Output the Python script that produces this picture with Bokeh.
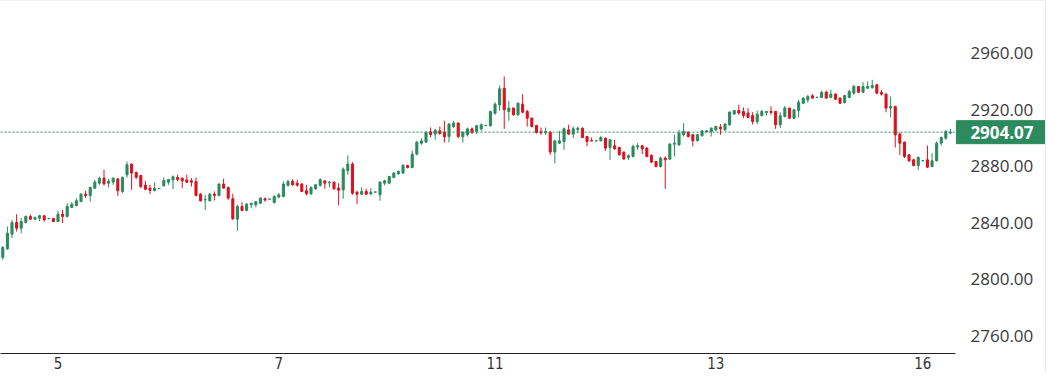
from bokeh.plotting import figure
from bokeh.models import ColumnDataSource, Span, Label, FixedTicker, NumeralTickFormatter, Range1d
from bokeh.embed import file_html
from bokeh.resources import INLINE

# ---- data (hourly candles) ----
opens = [2815.4, 2821.5, 2831.9, 2840.1, 2836.1, 2840.1, 2844.4, 2842.5, 2843.2, 2844.9,
         2842.8, 2843.0, 2840.8, 2846.0, 2844.4, 2850.8, 2852.2, 2855.0, 2860.2, 2859.2,
         2864.4, 2868.0, 2871.5, 2868.0, 2868.7, 2871.0, 2862.1, 2873.9, 2881.4, 2875.5,
         2873.4, 2866.6, 2864.4, 2862.8, 2864.1, 2866.1, 2868.7, 2870.3, 2872.0, 2871.5,
         2870.3, 2869.6, 2869.2, 2860.2, 2856.1, 2855.5, 2860.2, 2859.3, 2867.3, 2864.9,
         2856.9, 2842.5, 2851.5, 2848.7, 2852.7, 2852.7, 2853.8, 2856.9, 2856.6, 2854.3,
         2858.1, 2858.6, 2866.4, 2869.4, 2868.0, 2867.3, 2862.6, 2860.5, 2864.0, 2866.4,
         2869.6, 2868.3, 2868.7, 2864.5, 2863.3, 2876.7, 2881.5, 2861.6, 2860.2, 2862.1,
         2860.5, 2861.6, 2859.7, 2868.0, 2868.0, 2872.0, 2874.6, 2875.1, 2880.5, 2879.1,
         2888.6, 2896.3, 2897.0, 2904.3, 2902.7, 2905.0, 2904.1, 2901.0, 2908.1, 2910.5,
         2900.8, 2902.2, 2906.4, 2904.6, 2906.4, 2908.7, 2908.6, 2917.5, 2923.4, 2935.2,
         2918.7, 2921.1, 2916.4, 2923.9, 2918.7, 2914.0, 2908.8, 2904.6, 2903.6, 2904.1,
         2890.0, 2896.3, 2897.5, 2905.7, 2902.7, 2906.0, 2906.9, 2901.0, 2898.2, 2897.8,
         2898.0, 2899.8, 2893.3, 2894.4, 2893.3, 2889.9, 2886.2, 2886.9, 2893.5, 2894.4,
         2892.8, 2887.6, 2883.3, 2879.8, 2885.7, 2885.0, 2895.6, 2895.1, 2902.2, 2904.1,
         2902.2, 2898.0, 2901.5, 2904.3, 2904.6, 2905.8, 2907.6, 2905.8, 2909.3, 2916.9,
         2919.4, 2918.7, 2917.6, 2915.9, 2911.6, 2915.9, 2918.0, 2918.7, 2918.7, 2909.3,
         2915.2, 2921.1, 2914.0, 2919.4, 2924.6, 2927.0, 2929.8, 2928.6, 2928.6, 2932.4,
         2928.6, 2931.0, 2928.2, 2925.1, 2928.6, 2931.7, 2936.4, 2932.4, 2935.2, 2935.7,
         2937.6, 2932.2, 2931.0, 2921.1, 2922.3, 2902.7, 2897.0, 2888.0, 2884.5, 2880.5,
         2883.7, 2884.5, 2879.8, 2883.8, 2896.3, 2899.8, 2903.6]
highs = [2823.6, 2837.3, 2842.0, 2846.0, 2843.2, 2845.1, 2845.8, 2844.4, 2845.6, 2845.1,
         2843.2, 2843.0, 2848.4, 2849.1, 2853.8, 2854.5, 2857.4, 2860.9, 2862.5, 2865.6,
         2870.3, 2872.7, 2877.4, 2871.0, 2872.0, 2871.5, 2872.7, 2883.3, 2882.1, 2876.2,
         2873.9, 2869.6, 2866.8, 2868.5, 2864.4, 2872.0, 2871.0, 2873.4, 2873.9, 2872.0,
         2873.9, 2871.5, 2872.0, 2860.9, 2859.7, 2860.9, 2862.1, 2868.0, 2871.1, 2865.6,
         2860.5, 2852.7, 2854.5, 2853.8, 2854.3, 2855.3, 2857.9, 2857.9, 2857.0, 2859.3,
         2860.9, 2869.2, 2870.4, 2870.8, 2870.4, 2868.0, 2866.8, 2865.6, 2867.3, 2871.5,
         2869.9, 2869.6, 2869.2, 2868.0, 2879.1, 2887.6, 2882.9, 2862.6, 2864.9, 2864.0,
         2864.5, 2862.0, 2869.2, 2870.4, 2873.2, 2876.0, 2877.0, 2881.5, 2881.0, 2891.0,
         2897.9, 2899.8, 2904.6, 2907.4, 2906.4, 2908.1, 2912.1, 2910.5, 2912.1, 2911.2,
         2904.6, 2907.4, 2907.4, 2909.3, 2910.2, 2909.1, 2919.2, 2925.3, 2937.1, 2943.5,
         2926.3, 2921.5, 2925.3, 2931.0, 2919.9, 2914.5, 2909.3, 2907.4, 2907.4, 2904.6,
         2898.7, 2905.0, 2907.4, 2909.3, 2908.1, 2908.1, 2907.4, 2901.5, 2900.3, 2898.2,
         2901.5, 2900.3, 2899.1, 2898.7, 2893.7, 2890.4, 2888.5, 2895.2, 2896.3, 2895.1,
         2893.3, 2888.5, 2883.8, 2886.9, 2886.9, 2896.3, 2902.2, 2905.8, 2910.5, 2904.6,
         2902.7, 2902.7, 2905.5, 2905.5, 2907.4, 2908.6, 2909.8, 2910.2, 2918.7, 2919.9,
         2923.5, 2921.6, 2921.1, 2918.2, 2919.2, 2919.9, 2919.2, 2922.3, 2919.2, 2918.2,
         2922.7, 2921.5, 2920.6, 2927.0, 2928.6, 2930.5, 2931.0, 2929.0, 2933.4, 2933.4,
         2934.1, 2931.7, 2928.6, 2930.5, 2934.1, 2937.6, 2936.9, 2939.5, 2939.9, 2941.1,
         2938.1, 2934.1, 2931.7, 2929.3, 2922.7, 2903.9, 2897.5, 2888.5, 2885.2, 2886.9,
         2884.1, 2894.6, 2889.2, 2897.5, 2901.0, 2905.7, 2906.4]
lows = [2813.7, 2820.8, 2829.1, 2833.8, 2832.6, 2839.4, 2842.0, 2841.8, 2841.1, 2840.8,
        2842.5, 2840.4, 2840.4, 2839.7, 2843.7, 2850.3, 2851.5, 2854.5, 2857.4, 2855.0,
        2864.0, 2866.8, 2866.3, 2864.9, 2866.8, 2859.0, 2860.9, 2872.0, 2863.3, 2871.0,
        2864.4, 2863.0, 2860.2, 2862.1, 2863.9, 2865.6, 2866.8, 2863.7, 2869.2, 2864.4,
        2868.0, 2865.6, 2858.6, 2855.0, 2849.1, 2855.0, 2855.7, 2858.6, 2864.0, 2856.2,
        2842.0, 2834.3, 2848.0, 2848.0, 2850.3, 2850.8, 2853.1, 2855.0, 2856.4, 2853.6,
        2857.4, 2857.9, 2865.6, 2866.3, 2865.4, 2861.6, 2859.3, 2859.7, 2863.3, 2865.6,
        2864.0, 2865.0, 2863.3, 2852.2, 2856.9, 2873.9, 2859.7, 2853.1, 2859.7, 2859.3,
        2859.3, 2861.2, 2855.5, 2866.4, 2867.3, 2871.5, 2874.0, 2874.6, 2878.4, 2878.4,
        2887.6, 2895.1, 2896.5, 2900.3, 2898.7, 2902.2, 2896.8, 2896.8, 2906.9, 2899.8,
        2896.8, 2901.0, 2902.7, 2902.7, 2905.0, 2908.6, 2908.1, 2916.4, 2919.2, 2906.4,
        2912.1, 2915.7, 2915.7, 2917.5, 2908.1, 2907.4, 2903.1, 2902.2, 2902.2, 2888.0,
        2882.1, 2895.6, 2891.6, 2902.2, 2899.9, 2903.4, 2899.9, 2894.0, 2897.5, 2897.5,
        2897.5, 2890.9, 2884.5, 2891.6, 2887.4, 2884.5, 2884.5, 2886.2, 2891.6, 2888.5,
        2886.2, 2882.2, 2879.1, 2879.1, 2864.0, 2884.5, 2886.9, 2894.4, 2901.0, 2900.3,
        2894.0, 2897.5, 2901.0, 2903.9, 2901.0, 2904.6, 2902.2, 2905.0, 2908.6, 2916.4,
        2916.4, 2914.0, 2914.0, 2909.5, 2909.7, 2915.2, 2915.9, 2916.4, 2906.4, 2906.9,
        2914.5, 2913.3, 2913.5, 2914.5, 2923.9, 2925.1, 2927.7, 2928.4, 2928.2, 2927.7,
        2928.2, 2926.7, 2923.9, 2924.4, 2928.2, 2930.5, 2931.7, 2931.7, 2934.8, 2934.8,
        2931.0, 2930.0, 2918.2, 2914.5, 2893.2, 2888.0, 2885.7, 2882.8, 2879.8, 2877.4,
        2883.5, 2878.6, 2879.1, 2883.3, 2894.6, 2898.7, 2902.7]
closes = [2822.4, 2832.6, 2840.1, 2836.1, 2840.8, 2844.4, 2842.5, 2843.7, 2844.9, 2842.0,
          2843.0, 2840.8, 2846.0, 2844.4, 2851.5, 2853.1, 2855.5, 2860.2, 2859.2, 2864.9,
          2868.7, 2871.5, 2867.5, 2869.4, 2871.5, 2862.6, 2872.0, 2881.0, 2875.1, 2872.2,
          2865.6, 2863.7, 2862.8, 2864.4, 2864.2, 2869.9, 2870.6, 2872.5, 2870.6, 2869.6,
          2868.7, 2868.7, 2859.3, 2855.5, 2856.3, 2860.2, 2859.3, 2867.3, 2864.5, 2857.4,
          2842.7, 2851.5, 2848.7, 2853.1, 2853.6, 2854.8, 2857.4, 2856.0, 2856.7, 2858.6,
          2859.7, 2867.3, 2869.2, 2866.8, 2866.6, 2862.1, 2860.5, 2864.9, 2866.8, 2870.4,
          2868.0, 2868.7, 2864.0, 2863.0, 2877.9, 2881.5, 2860.9, 2860.2, 2862.1, 2860.2,
          2861.6, 2861.8, 2868.7, 2869.6, 2872.7, 2875.1, 2876.3, 2880.5, 2879.1, 2888.5,
          2897.0, 2897.9, 2904.1, 2902.4, 2905.5, 2903.1, 2900.8, 2909.8, 2910.5, 2901.0,
          2904.1, 2906.4, 2904.1, 2908.6, 2909.3, 2908.9, 2918.7, 2923.9, 2934.8, 2919.9,
          2921.1, 2916.4, 2924.6, 2918.2, 2914.0, 2908.1, 2903.8, 2903.6, 2904.6, 2890.0,
          2897.9, 2898.0, 2906.5, 2902.7, 2906.5, 2906.9, 2900.3, 2897.5, 2897.8, 2898.0,
          2900.3, 2892.8, 2898.7, 2892.3, 2888.1, 2885.2, 2887.4, 2894.0, 2894.4, 2892.3,
          2886.9, 2882.9, 2879.8, 2885.7, 2884.5, 2895.6, 2896.3, 2903.4, 2904.6, 2901.0,
          2898.0, 2902.2, 2905.0, 2905.0, 2906.9, 2908.1, 2906.5, 2909.8, 2918.3, 2919.4,
          2917.6, 2915.9, 2914.5, 2911.7, 2916.8, 2918.7, 2918.7, 2918.0, 2909.3, 2915.7,
          2921.1, 2914.0, 2919.9, 2925.3, 2928.2, 2929.3, 2928.2, 2928.8, 2932.2, 2928.2,
          2931.0, 2927.4, 2924.6, 2930.0, 2932.9, 2936.4, 2932.4, 2936.4, 2936.4, 2937.1,
          2931.7, 2931.0, 2921.1, 2922.3, 2902.2, 2896.3, 2886.9, 2883.8, 2880.5, 2886.2,
          2883.9, 2879.3, 2883.8, 2896.3, 2900.3, 2904.6, 2904.07]

tick_idx = [12, 60, 107, 155, 200]
tick_labels = ["5", "7", "11", "13", "16"]
price_ticks = [2760, 2800, 2840, 2880, 2920, 2960]

GREEN = "#2b8a5e"
RED = "#d9121f"

n = len(closes)
xs = list(range(n))
colors = [GREEN if c >= o else RED for o, c in zip(opens, closes)]
src = ColumnDataSource(dict(
    x=xs, o=opens, h=highs, l=lows, c=closes,
    top=[max(o, c) for o, c in zip(opens, closes)],
    bottom=[min(o, c) for o, c in zip(opens, closes)],
    color=colors,
))

p = figure(width=1046, height=372,
           x_range=Range1d(-0.5, 207.1), y_range=Range1d(2747.4, 2972.5),
           output_backend="svg", toolbar_location=None,
           y_axis_location="right",
           min_border_left=0, min_border_top=34, min_border_right=91, min_border_bottom=20)
p.grid.visible = False
p.outline_line_color = None
p.background_fill_color = "white"
p.border_fill_color = "white"

# x axis
p.xaxis.ticker = FixedTicker(ticks=tick_idx)
p.xaxis.major_label_overrides = {t: s for t, s in zip(tick_idx, tick_labels)}
p.xaxis.major_tick_line_color = None
p.xaxis.minor_tick_line_color = None
p.xaxis.major_tick_out = 0
p.xaxis.major_tick_in = 0
p.xaxis.axis_line_color = "#222222"
p.xaxis.axis_line_width = 1.2
p.xaxis.major_label_standoff = 3
p.xaxis.major_label_text_font = "Liberation Sans Narrow, DejaVu Sans Condensed, sans-serif"
p.xaxis.major_label_text_font_size = "15px"
p.xaxis.major_label_text_color = "#333333"

# y axis (right)
p.yaxis.ticker = FixedTicker(ticks=price_ticks)
p.yaxis.formatter = NumeralTickFormatter(format="0.00")
p.yaxis.axis_line_color = None
p.yaxis.major_tick_line_color = None
p.yaxis.minor_tick_line_color = None
p.yaxis.major_tick_out = 0
p.yaxis.major_tick_in = 0
p.yaxis.major_label_standoff = 15
p.yaxis.major_label_text_font = "Open Sans"
p.yaxis.major_label_text_font_size = "17px"
p.yaxis.major_label_text_color = "#3a3a3a"

# last price line
p.add_layout(Span(location=closes[-1], dimension="width", line_color=GREEN,
                  line_dash="2 2", line_width=1))

# candles
p.segment(x0="x", y0="h", x1="x", y1="l", line_color="color", line_width=1, source=src)
p.vbar(x="x", width=0.45, top="top", bottom="bottom", fill_color="color",
       line_color="color", line_width=1, source=src)

# last price tag (placed in the top side panel so it is not clipped to the frame)
p.add_layout(Label(x=217.2, y=closes[-1], text=f"{closes[-1]:.2f}",
                   text_align="center", text_baseline="middle",
                   text_color="white", text_font="Open Sans", text_font_style="bold",
                   text_font_size="17px", background_fill_color=GREEN,
                   border_line_color=GREEN, padding=(14, 5)), "above")

p.styles = {"border-right": "1px solid #e8e8e8", "border-top": "1px solid #f0f0f0"}

open("out.html", "w").write(file_html(p, INLINE))
